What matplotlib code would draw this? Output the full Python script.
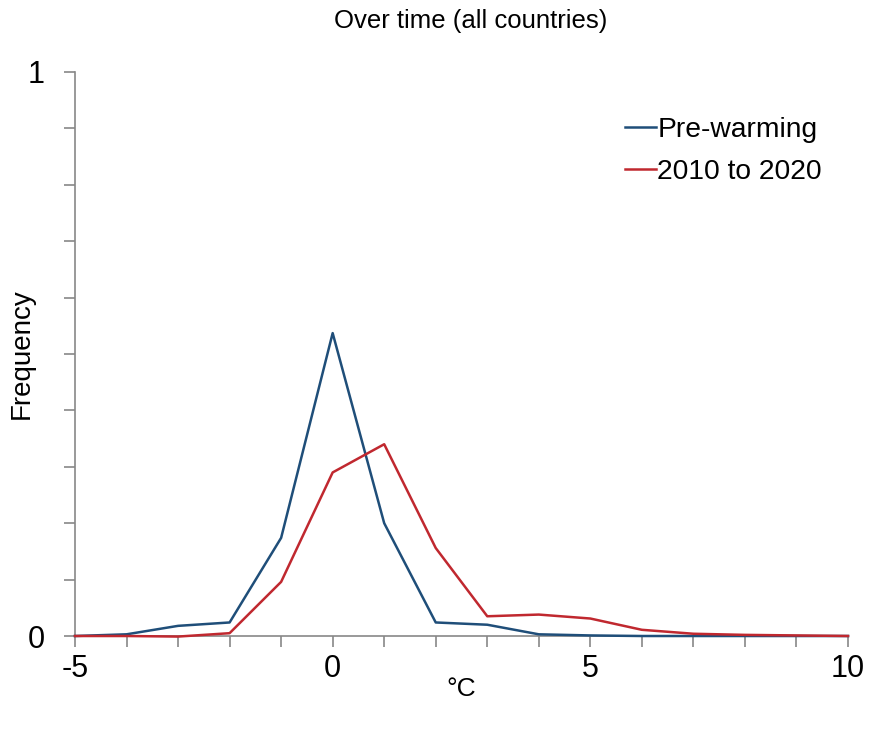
import numpy as np
import matplotlib.pyplot as plt

plt.rcParams['font.family'] = ['Liberation Sans', 'DejaVu Sans']
plt.rcParams['axes.unicode_minus'] = False

temps = [-5, -4, -3, -2, -1, 0, 1, 2, 3, 4, 5, 6, 7, 8, 9, 10]
pre_warming = [0.0, 0.003, 0.018, 0.024, 0.174, 0.537, 0.200, 0.024, 0.020,
               0.003, 0.001, 0.0, 0.0, 0.0, 0.0, 0.0]
recent = [0.0, 0.0, -0.001, 0.005, 0.096, 0.290, 0.340, 0.156, 0.035,
          0.038, 0.031, 0.011, 0.004, 0.002, 0.001, 0.0]

blue = '#1f4e79'
red = '#c0282f'
axis_grey = '#878787'

fig = plt.figure(figsize=(8.71, 7.45), dpi=100)
ax = fig.add_axes([0.0861, 0.1463, 0.8875, 0.7571])

ax.plot(temps, pre_warming, color=blue, lw=1.8, label='Pre-warming',
        clip_on=False, zorder=3)
ax.plot(temps, recent, color=red, lw=1.8, label='2010 to 2020',
        clip_on=False, zorder=3)

ax.set_xlim(-5, 10)
ax.set_ylim(0, 1)
ax.set_xticks([-5, 0, 5, 10])
ax.set_xticks(np.arange(-5, 11), minor=True)
ax.set_yticks([0, 1])
ax.set_yticks(np.arange(0, 1.01, 0.1), minor=True)

for side in ['top', 'right']:
    ax.spines[side].set_visible(False)
for side in ['left', 'bottom']:
    ax.spines[side].set_color(axis_grey)
    ax.spines[side].set_linewidth(1.2)
    ax.spines[side].set_zorder(2)

ax.tick_params(which='both', direction='out', length=8, width=1.2,
               color=axis_grey, labelsize=22)
ax.tick_params(axis='x', pad=5)
ax.tick_params(axis='y', pad=14)

ax.set_xlabel('°C', fontsize=19, va='center')
ax.xaxis.set_label_coords(0.4994, -0.094)
ax.set_ylabel('Frequency', fontsize=20, va='center')
ax.yaxis.set_label_coords(-0.069, 0.5)
fig.text(0.54, 0.972, 'Over time (all countries)', ha='center', va='center',
         fontsize=18.5)

ax.legend(loc='upper left', bbox_to_anchor=(0.7115, 0.92), frameon=False,
          fontsize=20.3, handlelength=1.1, handletextpad=0.05,
          labelspacing=0.56, borderpad=0, borderaxespad=0)

fig.savefig('out.png', dpi=100)
